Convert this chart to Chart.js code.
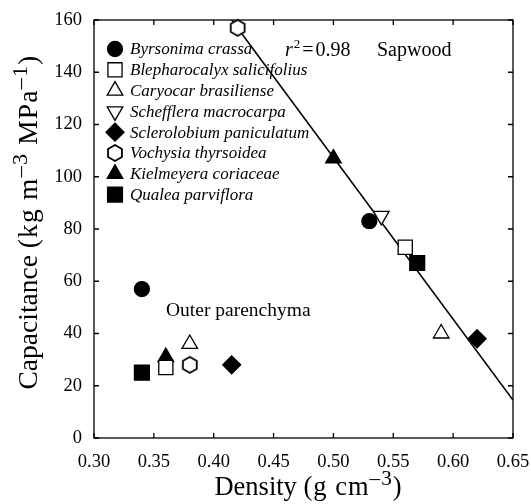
<!DOCTYPE html>
<html>
<head>
<meta charset="utf-8">
<script src="https://cdn.jsdelivr.net/npm/chart.js@4.4.0/dist/chart.umd.min.js"></script>
<style>
  html, body { margin: 0; padding: 0; background: #fff; }
  #wrap { width: 531px; height: 504px; }
</style>
</head>
<body>
<div id="wrap"><canvas id="chart" width="531" height="504"></canvas></div>
<script>
const SERIF = '"Liberation Serif", "Times New Roman", serif';

const species = [
  'Byrsonima crassa',
  'Blepharocalyx salicifolius',
  'Caryocar brasiliense',
  'Schefflera macrocarpa',
  'Sclerolobium paniculatum',
  'Vochysia thyrsoidea',
  'Kielmeyera coriaceae',
  'Qualea parviflora'
];
const sapwoodDensity      = [0.53, 0.56, 0.59, 0.54, 0.62, 0.42, 0.50, 0.57];
const sapwoodCapacitance  = [83, 73, 40, 85, 38, 157, 107, 67];
const parenchymaDensity     = [0.34, 0.36, 0.38, null, 0.415, 0.38, 0.36, 0.34];
const parenchymaCapacitance = [57, 27, 36, null, 28, 28, 31, 25];

const fitDensity     = [0.415, 0.65];
const fitCapacitance = [160, 14.5];

const xTicks = [0.30, 0.35, 0.40, 0.45, 0.50, 0.55, 0.60, 0.65];
const yTicks = [0, 20, 40, 60, 80, 100, 120, 140, 160];

// hex치gono (n칚o existe como pointStyle no Chart.js)
function hexagonImage(r) {
  const size = 2 * Math.ceil(r + 2);
  const c = document.createElement('canvas');
  c.width = size; c.height = size;
  const g = c.getContext('2d');
  const cx = size / 2, cy = size / 2;
  g.beginPath();
  for (let k = 0; k < 6; k++) {
    const a = -Math.PI / 2 + k * Math.PI / 3;
    const px = cx + r * Math.cos(a), py = cy + r * Math.sin(a);
    k === 0 ? g.moveTo(px, py) : g.lineTo(px, py);
  }
  g.closePath();
  g.fillStyle = '#fff';
  g.fill();
  g.lineWidth = 1.8;
  g.strokeStyle = '#000';
  g.stroke();
  return c;
}

// estilo de cada esp칠cie, na mesma ordem de species
const markers = [
  { style: 'circle',   rot: 0,   r: 7.5,  filled: true },
  { style: 'rect',     rot: 0,   r: 10,   filled: false },
  { style: 'triangle', rot: 0,   r: 9,    filled: false },
  { style: 'triangle', rot: 180, r: 9,    filled: false },
  { style: 'rectRot',  rot: 0,   r: 9,    filled: true },
  { style: hexagonImage(8), rot: 0, r: 8, filled: false },
  { style: 'triangle', rot: 0,   r: 9,    filled: true },
  { style: 'rect',     rot: 0,   r: 10.5, filled: true }
];

const datasets = species.map((name, i) => {
  const pts = [{ x: sapwoodDensity[i], y: sapwoodCapacitance[i] }];
  if (parenchymaDensity[i] !== null) {
    pts.push({ x: parenchymaDensity[i], y: parenchymaCapacitance[i] });
  }
  const m = markers[i];
  return {
    label: name,
    data: pts,
    pointStyle: m.style,
    rotation: m.rot,
    pointRadius: m.r,
    pointHoverRadius: m.r,
    pointBackgroundColor: m.filled ? '#000' : '#fff',
    pointBorderColor: '#000',
    pointBorderWidth: 1.3,
    showLine: false,
    clip: false
  };
});

// reta por baixo dos marcadores
datasets.push({
  label: 'fit',
  data: fitDensity.map((x, i) => ({ x: x, y: fitCapacitance[i] })),
  showLine: true,
  borderColor: '#000',
  borderWidth: 1.6,
  pointRadius: 0,
  fill: false
});

// texto com sobrescritos; parts: [texto, sobrescrito?, espa칞amento extra]
function drawRich(ctx, parts, x, y, size) {
  const fontFor = (p) => (p[1] ? size * 0.8 : size) + 'px ' + SERIF;
  const widthOf = (p) => {
    ctx.font = fontFor(p);
    return ctx.measureText(p[0]).width + (p[2] || 0) * p[0].length;
  };
  let total = 0;
  parts.forEach(p => { total += widthOf(p); });
  let cx = x - total / 2;
  ctx.textAlign = 'left';
  ctx.textBaseline = 'alphabetic';
  parts.forEach(p => {
    ctx.font = fontFor(p);
    const py = p[1] ? y - size * 0.38 : y;
    for (const ch of p[0]) {
      ctx.fillText(ch, cx, py);
      cx += ctx.measureText(ch).width + (p[2] || 0);
    }
  });
}

const decorPlugin = {
  id: 'decor',
  beforeDatasetsDraw(chart) {
    const ctx = chart.ctx;
    const a = chart.chartArea;
    const xs = chart.scales.x, ys = chart.scales.y;
    ctx.save();
    ctx.strokeStyle = '#000';
    ctx.fillStyle = '#000';

    // moldura + ticks para dentro
    ctx.lineWidth = 1.3;
    ctx.strokeRect(a.left, a.top, a.right - a.left, a.bottom - a.top);
    ctx.beginPath();
    xTicks.forEach(v => {
      const px = xs.getPixelForValue(v);
      ctx.moveTo(px, a.bottom); ctx.lineTo(px, a.bottom - 5);
      ctx.moveTo(px, a.top); ctx.lineTo(px, a.top + 5);
    });
    yTicks.forEach(v => {
      const py = ys.getPixelForValue(v);
      ctx.moveTo(a.left, py); ctx.lineTo(a.left + 5, py);
      ctx.moveTo(a.right, py); ctx.lineTo(a.right - 5, py);
    });
    ctx.stroke();

    // legenda
    const helpers = Chart.helpers;
    species.forEach((name, i) => {
      const m = markers[i];
      const ly = a.top + 29 + i * 20.8;
      ctx.fillStyle = m.filled ? '#000' : '#fff';
      ctx.strokeStyle = '#000';
      ctx.lineWidth = 1.3;
      helpers.drawPoint(ctx, { pointStyle: m.style, rotation: m.rot, radius: m.r, borderWidth: 1.3 }, a.left + 21, ly);
      ctx.fillStyle = '#000';
      ctx.font = 'italic 17px ' + SERIF;
      ctx.textAlign = 'left';
      ctx.textBaseline = 'middle';
      ctx.fillText(name, a.left + 36, ly + 1);
    });

    // anota칞칫es
    ctx.fillStyle = '#000';
    ctx.textAlign = 'left';
    ctx.textBaseline = 'alphabetic';
    ctx.font = 'italic 20px ' + SERIF;
    ctx.fillText('r', 285, 56);
    let w = ctx.measureText('r').width;
    ctx.font = '13px ' + SERIF;
    ctx.fillText('2', 285 + w + 1, 48);
    w += ctx.measureText('2').width + 3;
    ctx.font = '20px ' + SERIF;
    ctx.fillText('=', 285 + w, 56);
    w += ctx.measureText('=').width + 2;
    ctx.fillText('0.98', 285 + w, 56);
    ctx.fillText('Sapwood', 377, 56);
    ctx.font = '19.5px ' + SERIF;
    ctx.fillText('Outer parenchyma', 166, 316);
    ctx.restore();
  },
  afterDraw(chart) {
    const ctx = chart.ctx;
    const a = chart.chartArea;
    ctx.save();
    ctx.fillStyle = '#000';
    drawRich(ctx, [['Density ', false, 0], ['(g cm', false, 1], ['\u20133', true, 1], [')', false, 1]],
      (a.left + a.right) / 2 + 5, 495, 26.5);
    ctx.translate(37, 222);
    ctx.rotate(-Math.PI / 2);
    drawRich(ctx, [['Capacitance ', false, 0], ['(kg m', false, 1.2], ['\u20133', true, 1.2], [' MPa', false, 1.2],
      ['\u20131', true, 1.2], [')', false, 1.2]], 0, 0, 27.5);
    ctx.restore();
  }
};

const chart = new Chart(document.getElementById('chart'), {
  type: 'scatter',
  data: { datasets: datasets },
  options: {
    responsive: false,
    animation: false,
    events: [],
    layout: { padding: { top: 20, right: 18, left: 0, bottom: 0 } },
    plugins: { legend: { display: false }, tooltip: { enabled: false } },
    scales: {
      x: {
        type: 'linear',
        min: 0.30,
        max: 0.65,
        afterBuildTicks: s => { s.ticks = xTicks.map(v => ({ value: v })); },
        afterFit: s => { s.height = 66; s.paddingLeft = 0; s.paddingRight = 0; },
        grid: { display: false, drawTicks: false },
        border: { display: false },
        ticks: {
          color: '#000',
          padding: 13,
          maxRotation: 0,
          font: { family: SERIF, size: 18.5 },
          callback: v => Number(v).toFixed(2)
        }
      },
      y: {
        type: 'linear',
        min: 0,
        max: 160,
        afterBuildTicks: s => { s.ticks = yTicks.map(v => ({ value: v })); },
        afterFit: s => { s.width = 94; s.paddingTop = 0; s.paddingBottom = 0; },
        grid: { display: false, drawTicks: false },
        border: { display: false },
        ticks: {
          color: '#000',
          padding: 12,
          font: { family: SERIF, size: 18.5 },
          callback: v => String(v)
        }
      }
    }
  },
  plugins: [decorPlugin]
});
</script>
</body>
</html>
